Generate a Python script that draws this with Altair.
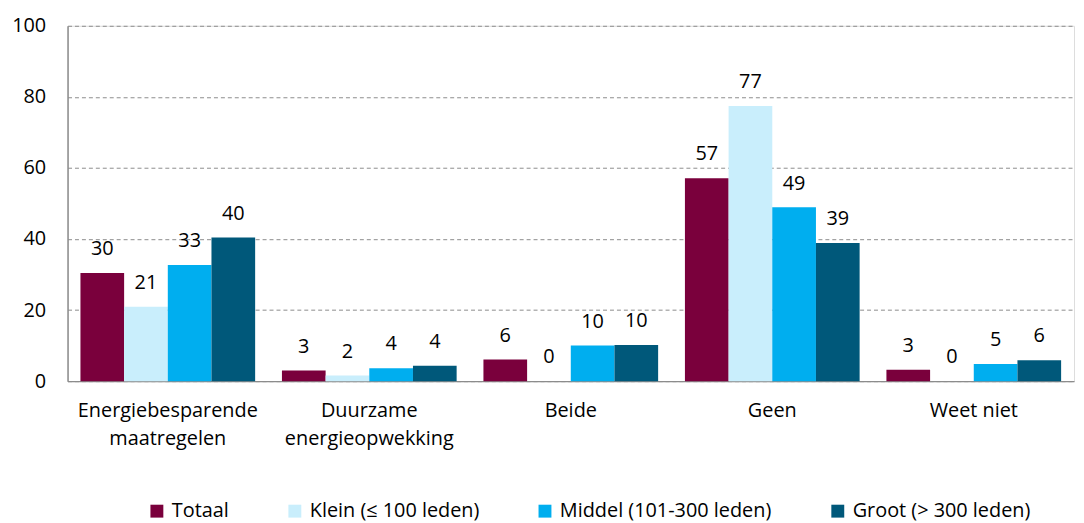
import altair as alt
import pandas as pd

categories = ["Energiebesparende|maatregelen", "Duurzame|energieopwekking", "Beide", "Geen", "Weet niet"]
series = ["Totaal", "Klein (≤ 100 leden)", "Middel (101-300 leden)", "Groot (> 300 leden)"]
totaal = [30.4, 3.0, 6.1, 57.1, 3.2]
klein = [20.9, 1.6, 0.0, 77.4, 0.0]
middel = [32.7, 3.6, 10.0, 48.9, 4.8]
groot = [40.4, 4.3, 10.2, 38.9, 5.9]
colors = ["#7A003C", "#C9EEFC", "#00AEEF", "#00587A"]
y_ticks = [0, 20, 40, 60, 80, 100]

rows = []
for s, vals in zip(series, [totaal, klein, middel, groot]):
    for c, v in zip(categories, vals):
        rows.append({"cat": c, "series": s, "value": v})
df = pd.DataFrame(rows)

FONT = "Open Sans"
FS = 20

x_enc = alt.X(
    "cat:N",
    sort=categories,
    scale=alt.Scale(paddingInner=0.133, paddingOuter=0.064),
    axis=alt.Axis(
        title=None,
        labelAngle=0,
        labelExpr="split(datum.label, '|')",
        labelLineHeight=28,
        labelBaseline="top",
        labelPadding=20,
        labelLimit=400,
        ticks=False,
        domainColor="#8c8c8c",
        domainWidth=1.5,
        labelFont=FONT,
        labelFontSize=FS,
        labelColor="#000000",
    ),
)
xoff = alt.XOffset("series:N", sort=series, scale=alt.Scale(paddingInner=0, paddingOuter=0))
y_enc = alt.Y(
    "value:Q",
    scale=alt.Scale(domain=[0, 100], nice=False),
    axis=alt.Axis(
        title=None,
        values=y_ticks,
        ticks=False,
        labelPadding=22,
        grid=True,
        gridDash=[4, 3],
        gridColor="#8c8c8c",
        gridWidth=1,
        domainColor="#8c8c8c",
        domainWidth=1.5,
        labelFont=FONT,
        labelFontSize=FS,
        labelColor="#000000",
    ),
)

bars = alt.Chart(df).mark_bar().encode(
    x=x_enc,
    xOffset=xoff,
    y=y_enc,
    color=alt.Color(
        "series:N",
        sort=series,
        scale=alt.Scale(domain=series, range=colors),
        legend=alt.Legend(
            title=None,
            orient="none",
            direction="horizontal",
            legendX=80,
            legendY=479,
            symbolType="square",
            symbolSize=169,
            symbolStrokeWidth=0,
            labelFont=FONT,
            labelFontSize=FS,
            labelColor="#000000",
            labelOffset=5,
            columnPadding=56,
            padding=0,
            labelLimit=400,
        ),
    ),
)

labels = alt.Chart(df).mark_text(
    font=FONT, fontSize=FS, color="#000000", baseline="alphabetic", dy=-18
).encode(
    x=alt.X("cat:N", sort=categories),
    xOffset=alt.XOffset("series:N", sort=series),
    y="value:Q",
    text=alt.Text("value:Q", format=".0f"),
)

chart = (
    alt.layer(bars, labels)
    .properties(
        width=1014,
        height=358,
        autosize=alt.AutoSizeParams(type="none"),
        padding={"left": 60, "top": 16, "right": 2, "bottom": 141},
    )
    .configure_view(stroke=None)
    .configure(background="#ffffff")
)

chart.save("out.html", embed_options={"renderer": "svg", "actions": False})
